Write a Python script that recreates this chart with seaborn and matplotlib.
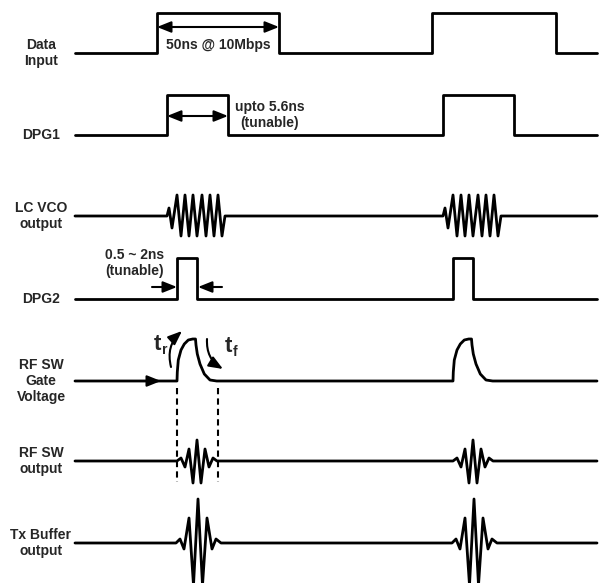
import matplotlib.pyplot as plt
import seaborn as sns
import pandas as pd

# left-hand trace labels
labels = ["Data\nInput", "DPG1", "LC VCO\noutput", "DPG2",
          "RF SW\nGate\nVoltage", "RF SW\noutput", "Tx Buffer\noutput"]

# time span of every trace (sketch units)
t_start, t_end = 75, 597

# square pulses: (rising edge, falling edge) and pulse height
data_input_edges = [(157, 279), (432, 556)]
data_input_high = 40
dpg1_edges = [(167, 228), (443, 514)]
dpg1_high = 40
dpg2_edges = [(177, 197), (453, 473)]
dpg2_high = 41

# LC VCO zigzag, times relative to burst start
vco_starts = [167, 443]
vco_t = [0, 2, 5, 10, 14, 18, 22, 26, 30, 35, 39, 43, 47, 51, 55, 58]
vco_amp = [0, 8, -12, 21, -20, 21, -20, 21, -20, 21, -20, 21, -20, 21, -20, 0]

# RF SW gate voltage: fast rise, slow decay (relative to rise start)
gate_starts = [177, 453]
gate_t = [0, 0.3, 1.3, 4, 7.3, 11.3, 15.7, 18.5, 19, 20.3, 23, 27.3, 33, 39.7]
gate_amp = [0, 9, 21, 31, 37, 41, 42, 42, 36, 27, 17, 7, 1, 0]

# RF SW output burst extrema, relative to burst centre
rfsw_centres = [197, 473]
rfsw_t = [-20, -16, -12, -8, -4, 0, 4, 8, 12, 16, 20]
rfsw_amp = [0, 3, -6, 12, -22, 21, -22, 12, -6, 3, 0]

# Tx buffer output burst extrema, relative to burst centre
tx_centres = [198, 474]
tx_t = [-22, -18, -14, -9, -4.5, 0, 4.5, 9, 14, 18, 23]
tx_amp = [0, 4, -6, 25, -42, 44, -42, 25, -6, 4, 0]


def square(edges, high):
    t, a = [t_start], [0]
    for r, f in edges:
        t += [r, r, f, f]
        a += [0, high, high, 0]
    return t + [t_end], a + [0]


def bursts(starts, rel_t, amp):
    t, a = [t_start], [0]
    for s in starts:
        t += [s + x for x in rel_t]
        a += list(amp)
    return t + [t_end], a + [0]


waves = [square(data_input_edges, data_input_high),
         square(dpg1_edges, dpg1_high),
         bursts(vco_starts, vco_t, vco_amp),
         square(dpg2_edges, dpg2_high),
         bursts(gate_starts, gate_t, gate_amp),
         bursts(rfsw_centres, rfsw_t, rfsw_amp),
         bursts(tx_centres, tx_t, tx_amp)]

# vertical position of each trace's baseline (layout, in figure pixels)
rows = [53, 135, 216, 299, 381, 461, 543]

frames = []
for name, (t, a), base in zip(labels, waves, rows):
    frames.append(pd.DataFrame({"trace": name, "t": t,
                                "y": [base - v for v in a]}))
df = pd.concat(frames, ignore_index=True)

sns.set_theme(style="white")
plt.rcParams["font.family"] = ["Liberation Sans", "DejaVu Sans"]
plt.rcParams["font.weight"] = "bold"

fig = plt.figure(figsize=(6, 5.83), dpi=100)
ax = fig.add_axes([0, 0, 1, 1])

for name in labels:
    sub = df[df["trace"] == name]
    sns.lineplot(data=sub, x="t", y="y", sort=False, estimator=None,
                 color="black", linewidth=2.0, ax=ax)

ax.set_xlim(0, 600)
ax.set_ylim(583, 0)
ax.axis("off")

fs = 10
for name, base in zip(labels, rows):
    ax.text(41, base, name, ha="center", va="center", fontsize=fs,
            fontweight="bold", linespacing=1.2)

arr = dict(color="black", lw=1.5, shrinkA=0, shrinkB=0)
head = "head_length=0.7,head_width=0.28"

# 50ns pulse width
ax.annotate("", xy=(279, 27), xytext=(157, 27),
            arrowprops=dict(arrowstyle="<|-|>," + head, **arr))
ax.text(218, 45, "50ns @ 10Mbps", ha="center", va="center", fontsize=fs, fontweight="bold")

# DPG1 width
ax.annotate("", xy=(228, 116), xytext=(167, 116),
            arrowprops=dict(arrowstyle="<|-|>," + head, **arr))
ax.text(270, 115, "upto 5.6ns\n(tunable)", ha="center", va="center", fontsize=fs,
        fontweight="bold", linespacing=1.2)

# DPG2 width
ax.annotate("", xy=(177, 287), xytext=(152, 287),
            arrowprops=dict(arrowstyle="-|>," + head, **arr))
ax.annotate("", xy=(198, 287), xytext=(222, 287),
            arrowprops=dict(arrowstyle="-|>," + head, **arr))
ax.text(135, 263, "0.5 ~ 2ns\n(tunable)", ha="center", va="center", fontsize=fs,
        fontweight="bold", linespacing=1.2)

# gate voltage: input arrow, rise / fall arrows
ax.annotate("", xy=(161, 381), xytext=(140, 381),
            arrowprops=dict(arrowstyle="-|>," + head, **arr))
ax.annotate("", xy=(182, 331), xytext=(171, 367),
            arrowprops=dict(arrowstyle="-|>," + head,
                            connectionstyle="arc3,rad=-0.3", **arr))
ax.annotate("", xy=(223, 369), xytext=(207, 339),
            arrowprops=dict(arrowstyle="-|>," + head,
                            connectionstyle="arc3,rad=0.3", **arr))
ax.text(157, 345, "t", ha="center", va="center", fontsize=16, fontweight="bold")
ax.text(165, 350, "r", ha="center", va="center", fontsize=10, fontweight="bold")
ax.text(228, 347, "t", ha="center", va="center", fontsize=16, fontweight="bold")
ax.text(235, 352, "f", ha="center", va="center", fontsize=10, fontweight="bold")

# dashed markers for the switch window
ax.vlines([177, 218], 388, 482, colors="black", linestyles=(0, (3, 2)), lw=1.5)

fig.savefig("out.png", dpi=100)
plt.close(fig)
